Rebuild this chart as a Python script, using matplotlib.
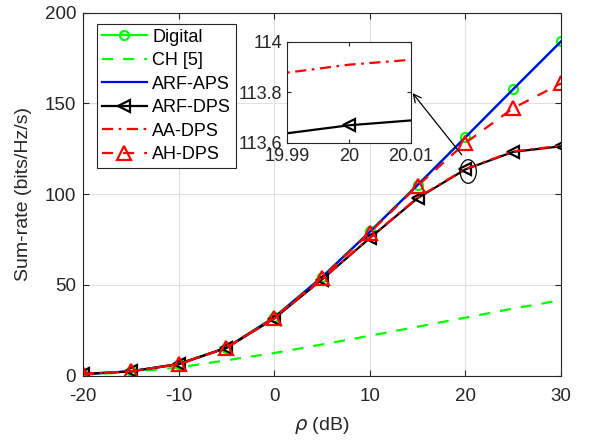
import numpy as np
import matplotlib
matplotlib.use("Agg")
import matplotlib.pyplot as plt
from matplotlib.patches import Ellipse

plt.rcParams['font.family'] = ['Liberation Sans', 'DejaVu Sans']
plt.rcParams['mathtext.fontset'] = 'dejavusans'
plt.rcParams['axes.unicode_minus'] = False

# SNR axis (dB)
rho = [-20, -15, -10, -5, 0, 5, 10, 15, 20, 25, 30]

# Sum-rate values
digital = [0.8, 2.4, 6.5, 15.5, 32.3, 54.5, 79.5, 105.3, 131.5, 158.0, 184.3]
ch5 = [0.5, 2.0, 4.5, 8.5, 12.5, 17.2, 22.0, 27.0, 32.0, 37.0, 41.6]
arf_aps = [0.8, 2.4, 6.5, 15.4, 32.1, 54.3, 79.2, 105.0, 131.3, 157.8, 184.1]
arf_dps = [1.0, 2.4, 6.3, 15.3, 31.5, 53.0, 75.8, 97.8, 113.67, 123.3, 126.4]
aa_dps = [1.0, 2.4, 6.3, 15.3, 31.6, 53.2, 76.0, 98.1, 113.91, 123.6, 126.7]
ah_dps = [0.8, 2.4, 6.4, 15.4, 32.0, 54.0, 78.8, 104.6, 128.2, 147.4, 161.0]

dark = (0.15, 0.15, 0.15)

fig = plt.figure(figsize=(5.89, 4.45), dpi=100)
ax = fig.add_axes([0.1409, 0.1557, 0.8115, 0.8158])

def draw(a):
    a.plot(rho, digital, '-o', color=(0, 1, 0), lw=1.6, ms=6.5, mfc='none', mew=1.6, label='Digital')
    a.plot(rho, ch5, '--', color=(0, 1, 0), lw=1.6, dashes=(5, 4.5), label='CH [5]')
    a.plot(rho, arf_aps, '-', color=(0, 0, 1), lw=1.6, label='ARF-APS')
    a.plot(rho, arf_dps, '-<', color='k', lw=1.6, ms=9, mfc='none', mew=1.6, label='ARF-DPS')
    a.plot(rho, aa_dps, '-.', color=(1, 0, 0), lw=1.6, dashes=(5, 2.5, 1.2, 2.5), label='AA-DPS')
    a.plot(rho, ah_dps, '--^', color=(1, 0, 0), lw=1.6, dashes=(5, 4.5), ms=9.5, mfc='none', mew=1.6, label='AH-DPS')

draw(ax)
ax.set_xlim(-20, 30)
ax.set_ylim(0, 200)
ax.set_xticks([-20, -10, 0, 10, 20, 30])
ax.set_yticks([0, 50, 100, 150, 200])
ax.grid(True, color=(0.88, 0.88, 0.88), lw=0.8)
ax.set_axisbelow(True)
ax.tick_params(direction='in', labelsize=13.5, length=4, top=True, right=True, colors=dark)
ax.tick_params(axis='x', pad=9)
ax.tick_params(axis='y', pad=5)
for s in ax.spines.values():
    s.set_color(dark)
ax.set_xlabel(r'$\rho$ (dB)', fontsize=14, color=dark, labelpad=7)
ax.set_ylabel('Sum-rate (bits/Hz/s)', fontsize=14, color=dark, labelpad=9)

leg = ax.legend(loc='upper left', bbox_to_anchor=(0.03, 0.968), fontsize=13, handlelength=2.5,
                frameon=True, fancybox=False, edgecolor=dark, framealpha=1,
                borderpad=0.25, labelspacing=0.36, handletextpad=0.3, borderaxespad=0)
leg.get_frame().set_linewidth(0.8)

# zoom ellipse around rho = 20
ax.add_patch(Ellipse((20.3, 112.5), 1.7, 13, fill=False, color='k', lw=0.9, zorder=5))

# inset
ax_in = fig.add_axes([0.487, 0.6787, 0.2105, 0.227])
draw(ax_in)
ax_in.set_xlim(19.99, 20.01)
ax_in.set_ylim(113.6, 114.0)
ax_in.set_xticks([19.99, 20, 20.01])
ax_in.set_xticklabels(['19.99', '20', '20.01'])
ax_in.set_yticks([113.6, 113.8, 114.0])
ax_in.set_yticklabels(['113.6', '113.8', '114'])
ax_in.tick_params(direction='in', labelsize=13, length=3, top=True, right=True, colors=dark)
for s in ax_in.spines.values():
    s.set_color(dark)

ax.annotate('', xy=(1.0, 0.515), xycoords=ax_in.transAxes, xytext=(19.8, 120.5), textcoords='data',
            arrowprops=dict(arrowstyle='->', color='k', lw=0.9, mutation_scale=14), zorder=6)

fig.savefig('out.png', dpi=100)
